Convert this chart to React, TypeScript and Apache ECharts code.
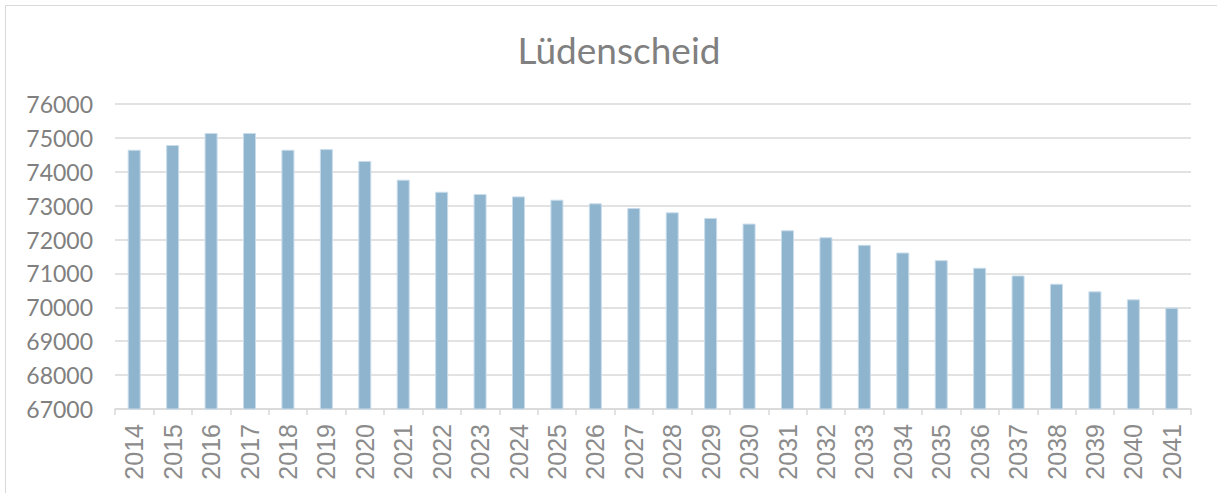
import React, { useEffect, useRef } from "react";
import * as echarts from "echarts";

const years = [
  "2014", "2015", "2016", "2017", "2018", "2019", "2020", "2021", "2022", "2023",
  "2024", "2025", "2026", "2027", "2028", "2029", "2030", "2031", "2032", "2033",
  "2034", "2035", "2036", "2037", "2038", "2039", "2040", "2041",
];
const population = [
  74650, 74790, 75145, 75145, 74650, 74670, 74320, 73767, 73410, 73344,
  73274, 73176, 73068, 72932, 72803, 72638, 72471, 72274, 72068, 71844,
  71618, 71392, 71168, 70941, 70696, 70471, 70235, 69990,
];
const yMin = 67000;
const yMax = 76000;
const yStep = 1000;
const chartTitle = "Lüdenscheid";

export default function App() {
  const ref = useRef<HTMLDivElement>(null);
  useEffect(() => {
    if (!ref.current) return;
    const chart = echarts.init(ref.current, null, { renderer: "svg" });
    chart.setOption({
      animation: false,
      backgroundColor: "#ffffff",
      title: {
        text: chartTitle,
        left: 614,
        textAlign: "center",
        top: 26,
        textStyle: {
          fontFamily: "Lato",
          fontSize: 37,
          fontWeight: "normal",
          color: "#808080",
        },
      },
      graphic: [
        {
          type: "rect",
          shape: { x: 5.5, y: 5.5, width: 1230, height: 510 },
          style: { fill: "none", stroke: "#d9d9d9", lineWidth: 1 },
          silent: true,
        },
      ],
      grid: { left: 115, right: 26, top: 104, bottom: 84, containLabel: false },
      xAxis: {
        type: "category",
        data: years,
        axisLine: { show: true, lineStyle: { color: "#d9d9d9", width: 1.5 } },
        axisTick: { show: true, length: 6, alignWithLabel: false, lineStyle: { color: "#d9d9d9", width: 1.5 } },
        axisLabel: {
          rotate: 90,
          margin: 15,
          fontFamily: "Liberation Sans",
          fontSize: 25,
          color: "#8c8c8c",
        },
      },
      yAxis: {
        type: "value",
        min: yMin,
        max: yMax,
        interval: yStep,
        axisLine: { show: false },
        axisTick: { show: false },
        splitLine: { lineStyle: { color: "#d9d9d9", width: 1.5 } },
        axisLabel: {
          margin: 22,
          fontFamily: "Lato",
          fontSize: 23,
          color: "#808080",
          formatter: (v: number) => String(v),
        },
      },
      series: [
        {
          type: "bar",
          data: population,
          barWidth: 13,
          itemStyle: { color: "#8eb4ce", borderColor: "#c9dceb", borderWidth: 1 },
        },
      ],
    });
    return () => chart.dispose();
  }, []);
  return (
    <div
      ref={ref}
      style={{ position: "fixed", left: 0, top: 0, width: 1217, height: 493 }}
    />
  );
}
